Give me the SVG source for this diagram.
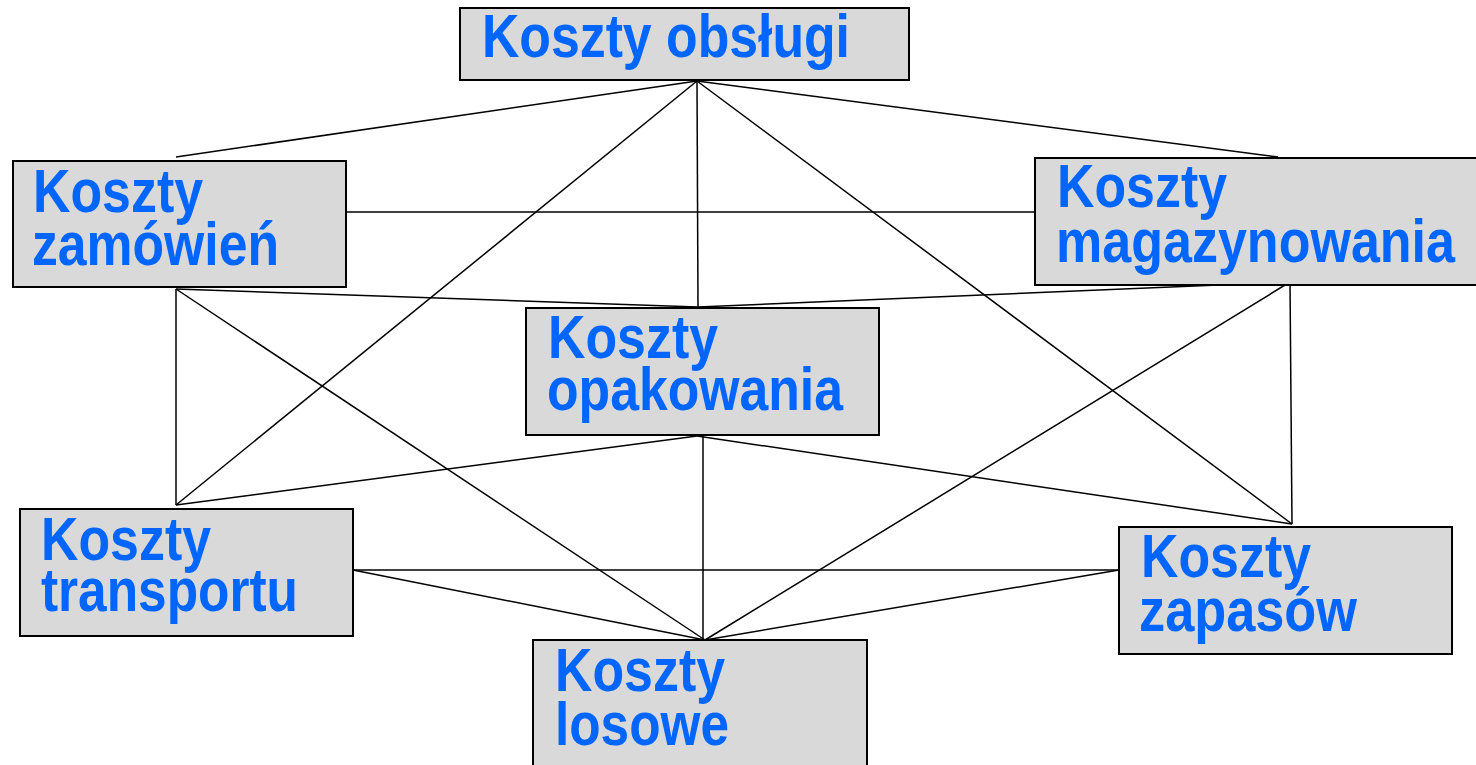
<svg xmlns="http://www.w3.org/2000/svg" width="1476" height="765" viewBox="0 0 1476 765">
<style>
.box{fill:#d9d9d9;stroke:#000;stroke-width:2}
.t{font-family:"Liberation Sans",Arial,sans-serif;font-weight:bold;font-size:62px;fill:#0066ff}
.c{stroke:#000;stroke-width:1.5;fill:none}
</style>
<rect x="0" y="0" width="1476" height="765" fill="#fff"/>
<g id="connectors">
<line class="c" x1="697" y1="81" x2="176" y2="157"/>
<line class="c" x1="697" y1="81" x2="1278" y2="157"/>
<line class="c" x1="697" y1="81" x2="176" y2="505"/>
<line class="c" x1="697" y1="81" x2="698" y2="307"/>
<line class="c" x1="697" y1="81" x2="1292" y2="524"/>
<line class="c" x1="346" y1="212" x2="1035" y2="212"/>
<line class="c" x1="176" y1="289" x2="698" y2="307"/>
<line class="c" x1="176" y1="289" x2="176" y2="505"/>
<line class="c" x1="176" y1="289" x2="705" y2="640"/>
<line class="c" x1="1290" y1="282" x2="698" y2="307"/>
<line class="c" x1="1290" y1="282" x2="1292" y2="524"/>
<line class="c" x1="1290" y1="282" x2="705" y2="640"/>
<line class="c" x1="697" y1="436" x2="176" y2="505"/>
<line class="c" x1="697" y1="436" x2="1292" y2="524"/>
<line class="c" x1="703" y1="436" x2="703" y2="640"/>
<line class="c" x1="353" y1="570" x2="1119" y2="570"/>
<line class="c" x1="353" y1="570" x2="705" y2="640"/>
<line class="c" x1="1119" y1="570" x2="705" y2="640"/>
</g>
<g id="obslugi">
<rect class="box" x="460" y="8" width="449" height="72"/>
<text class="t" x="482" y="57" textLength="368" lengthAdjust="spacingAndGlyphs">Koszty obsługi</text>
</g>
<g id="zamowien">
<rect class="box" x="13" y="161" width="333" height="126"/>
<text class="t" x="33" y="212" textLength="170" lengthAdjust="spacingAndGlyphs">Koszty</text>
<text class="t" x="32" y="265" textLength="247" lengthAdjust="spacingAndGlyphs">zamówień</text>
</g>
<g id="magazynowania">
<rect class="box" x="1035" y="158" width="445" height="127"/>
<text class="t" x="1057" y="207" textLength="170" lengthAdjust="spacingAndGlyphs">Koszty</text>
<text class="t" x="1056" y="262" textLength="399" lengthAdjust="spacingAndGlyphs">magazynowania</text>
</g>
<g id="opakowania">
<rect class="box" x="526" y="308" width="353" height="127"/>
<text class="t" x="548" y="358" textLength="170" lengthAdjust="spacingAndGlyphs">Koszty</text>
<text class="t" x="547" y="410" textLength="296" lengthAdjust="spacingAndGlyphs">opakowania</text>
</g>
<g id="transportu">
<rect class="box" x="20" y="509" width="333" height="127"/>
<text class="t" x="41" y="560" textLength="170" lengthAdjust="spacingAndGlyphs">Koszty</text>
<text class="t" x="41" y="611" textLength="257" lengthAdjust="spacingAndGlyphs">transportu</text>
</g>
<g id="losowe">
<rect class="box" x="533" y="640" width="334" height="135"/>
<text class="t" x="555" y="691" textLength="170" lengthAdjust="spacingAndGlyphs">Koszty</text>
<text class="t" x="555" y="745" textLength="174" lengthAdjust="spacingAndGlyphs">losowe</text>
</g>
<g id="zapasow">
<rect class="box" x="1119" y="527" width="333" height="127"/>
<text class="t" x="1141" y="577" textLength="170" lengthAdjust="spacingAndGlyphs">Koszty</text>
<text class="t" x="1139" y="631" textLength="218" lengthAdjust="spacingAndGlyphs">zapasów</text>
</g>
</svg>
